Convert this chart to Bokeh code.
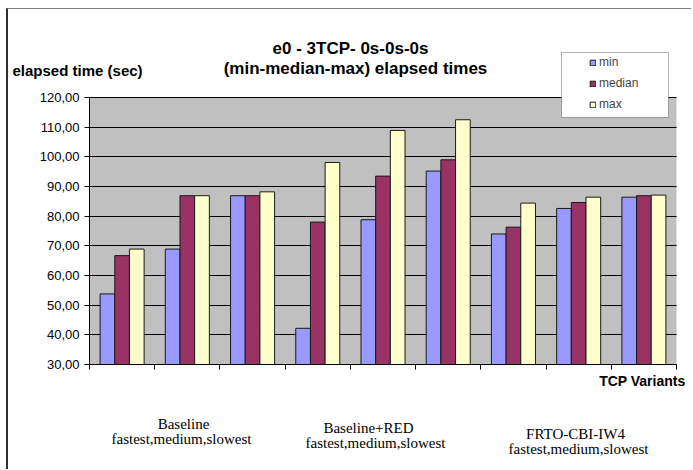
from bokeh.plotting import figure
from bokeh.models import (Label, Legend, LegendItem, BoxAnnotation, FixedTicker,
                          CustomJSTickFormatter, Range1d)
from bokeh.embed import file_html
from bokeh.resources import INLINE
import numpy as np

# Elapsed times (sec) for the nine runs: three speeds for each TCP variant
variants = ["Baseline", "Baseline+RED", "FRTO-CBI-IW4"]
speeds_label = "fastest,medium,slowest"
min_vals = [53.8, 68.9, 86.9, 42.2, 78.8, 95.2, 74.0, 82.6, 86.4]
median_vals = [66.7, 86.9, 86.9, 78.0, 93.5, 99.0, 76.3, 84.6, 86.9]
max_vals = [68.9, 86.9, 88.2, 98.1, 108.9, 112.5, 84.4, 86.4, 87.1]
series_names = ["min", "median", "max"]
series_colors = ["#9999FF", "#993366", "#FFFFCC"]
y_ticks = [30, 40, 50, 60, 70, 80, 90, 100, 110, 120]

SANS = "Liberation Sans"
SERIF = "Liberation Serif"

# canvas size and where the plot area sits on it (pixels from top-left)
W, H = 685, 461
AREA_L, AREA_R, AREA_T, AREA_B = 81, 668, 88, 355
n = len(min_vals)
y_lo, y_hi = y_ticks[0], y_ticks[-1]

# the frame covers the whole canvas, so ranges are widened around the plot area
sx = n / (AREA_R - AREA_L)
sy = (y_hi - y_lo) / (AREA_B - AREA_T)
x_range = Range1d(0 - AREA_L * sx, n + (W - AREA_R) * sx)
y_range = Range1d(y_lo - (H - AREA_B) * sy, y_hi + AREA_T * sy)

p = figure(width=W, height=H, output_backend="svg", toolbar_location=None,
           x_range=x_range, y_range=y_range, min_border=0,
           min_border_left=0, min_border_right=0, min_border_top=0,
           min_border_bottom=0, background_fill_color="white",
           border_fill_color="white", outline_line_color=None)
p.margin = (8, 0, 0, 6)
p.styles = {"border-left": "2px solid #303030", "border-top": "1px solid #808080"}

# grey plot area
p.add_layout(BoxAnnotation(left=0, right=n, bottom=y_lo, top=y_hi,
                           fill_color="#C0C0C0", fill_alpha=1, line_color=None,
                           level="image"))

# horizontal grid lines limited to the plot area
p.xgrid.grid_line_color = None
grid = p.ygrid[0]
if "cross_bounds" in grid.properties():
    grid.ticker = FixedTicker(ticks=y_ticks)
    grid.bounds = (y_lo, y_hi)
    grid.cross_bounds = (0, n)
    grid.grid_line_color = "black"
    grid.grid_line_width = 1
else:
    grid.grid_line_color = None
    p.segment(x0=0, x1=n, y0=y_ticks, y1=y_ticks, line_color="black",
              line_width=1, level="underlay")

# grouped bars
slot = np.arange(n) + 0.5
bar_w = 0.225
renderers = []
for k, (vals, col) in enumerate(zip([min_vals, median_vals, max_vals], series_colors)):
    r = p.vbar(x=slot + (k - 1) * bar_w, top=vals, bottom=y_lo, width=bar_w,
               fill_color=col, line_color="#1a1a1a", line_width=1)
    renderers.append(r)

# axes pinned to the plot area's edges
p.yaxis.fixed_location = 0
p.yaxis.bounds = (y_lo, y_hi)
p.yaxis.ticker = FixedTicker(ticks=y_ticks)
p.yaxis.formatter = CustomJSTickFormatter(code="return tick.toFixed(2).replace('.', ',');")
p.yaxis.major_tick_out = 5
p.yaxis.major_tick_in = 0
p.yaxis.minor_tick_line_color = None
p.yaxis.major_label_standoff = 5
p.yaxis.major_label_text_font = SANS
p.yaxis.major_label_text_font_size = "13px"
p.yaxis.major_label_text_color = "black"
p.yaxis.axis_line_color = "black"
p.yaxis.major_tick_line_color = "black"

p.xaxis.fixed_location = y_lo
p.xaxis.bounds = (0, n)
p.xaxis.ticker = FixedTicker(ticks=list(range(n + 1)))
p.xaxis.formatter = CustomJSTickFormatter(code="return '';")
p.xaxis.major_tick_out = 5
p.xaxis.major_tick_in = 0
p.xaxis.minor_tick_line_color = None
p.xaxis.axis_line_color = "black"
p.xaxis.major_tick_line_color = "black"


def page_to_screen(px, py):
    # page pixels -> screen units measured from the canvas' bottom-left
    return px - 8, 470 - py


# legend box and entries
bl, bb = page_to_screen(561, 117)
br, bt = page_to_screen(668, 52)
p.add_layout(BoxAnnotation(left=bl, right=br, bottom=bb, top=bt,
                           left_units="screen", right_units="screen",
                           top_units="screen", bottom_units="screen",
                           fill_color="white", fill_alpha=1,
                           line_color="black", line_width=1))
legend = Legend(items=[LegendItem(label=nm, renderers=[r]) for nm, r in zip(series_names, renderers)],
                location=page_to_screen(589, 114), padding=0, spacing=1, margin=0,
                label_height=20, glyph_width=7, glyph_height=7, label_standoff=3,
                label_text_font=SANS, label_text_font_size="12px",
                background_fill_alpha=0, border_line_color=None)
p.add_layout(legend)


def add_text(text, px, py, size, align="center", font=SANS, style="normal"):
    x, y = page_to_screen(px, py)
    p.add_layout(Label(text=text, x=x, y=y, x_units="screen", y_units="screen",
                       text_font=font, text_font_size=size, text_font_style=style,
                       text_align=align, text_baseline="middle", text_color="black"))


# titles
add_text("e0 - 3TCP- 0s-0s-0s", 350, 48, "17px", style="bold")
add_text("(min-median-max) elapsed times", 355, 68, "17px", style="bold")
add_text("elapsed time (sec)", 12, 70, "15px", align="left", style="bold")
add_text("TCP Variants", 685, 380, "14px", align="right", style="bold")

# variant group captions under the axis
group_pos = [(183, 423, 181, 438), (368, 427, 375, 442), (575, 433, 578, 448)]
for name, (x1, y1, x2, y2) in zip(variants, group_pos):
    add_text(name, x1, y1, "15px", font=SERIF)
    add_text(speeds_label, x2, y2, "15px", font=SERIF)

open("out.html", "w").write(file_html(p, INLINE))
